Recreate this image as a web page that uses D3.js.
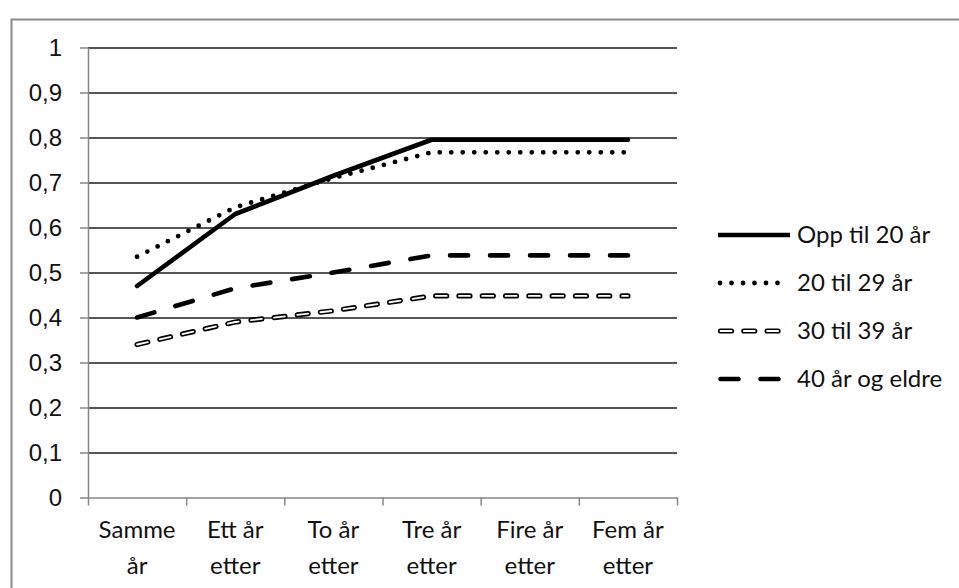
<!DOCTYPE html>
<html>
<head>
<meta charset="utf-8">
<script src="https://cdn.jsdelivr.net/npm/d3@7"></script>
<style>
  html, body { margin: 0; padding: 0; background: #fff; }
  svg { display: block; font-family: Lato, "Open Sans", sans-serif; }
</style>
</head>
<body>
<svg id="chart" width="959" height="588"></svg>
<script>
// Category labels (two lines each)
const categories = [
  ["Samme", "år"],
  ["Ett år", "etter"],
  ["To år", "etter"],
  ["Tre år", "etter"],
  ["Fire år", "etter"],
  ["Fem år", "etter"]
];

// Series values per category
const oppTil20 = [0.47, 0.63, 0.715, 0.795, 0.795, 0.795];
const til29 = [0.535, 0.645, 0.71, 0.767, 0.767, 0.767];
const til39 = [0.34, 0.39, 0.415, 0.448, 0.448, 0.448];
const eldre40 = [0.40, 0.465, 0.50, 0.538, 0.538, 0.538];

const seriesNames = ["Opp til 20 år", "20 til 29 år", "30 til 39 år", "40 år og eldre"];

// Value axis ticks
const yTicks = [0, 0.1, 0.2, 0.3, 0.4, 0.5, 0.6, 0.7, 0.8, 0.9, 1];
const yTickLabels = ["0", "0,1", "0,2", "0,3", "0,4", "0,5", "0,6", "0,7", "0,8", "0,9", "1"];

const svg = d3.select("#chart");

const plot = { left: 88, right: 677, top: 47.5, bottom: 497.5 };
const axisGrey = "#868686";
const textColor = "#111";

// Outer chart frame
svg.append("rect")
  .attr("x", 11.5).attr("y", 19.5)
  .attr("width", 1000).attr("height", 1000)
  .attr("fill", "none")
  .attr("stroke", "#8a8a8a")
  .attr("stroke-width", 2);

const idx = d3.range(categories.length);
const x = d3.scaleBand().domain(idx).range([plot.left, plot.right]).padding(0);
const xEdge = d3.scaleLinear().domain([0, categories.length]).range([plot.left, plot.right]);
const y = d3.scaleLinear().domain([0, 1]).range([plot.bottom, plot.top]);
const cx = i => x(i) + x.bandwidth() / 2;

// Horizontal gridlines
const grid = svg.append("g")
  .attr("transform", `translate(${plot.left},0)`)
  .call(d3.axisLeft(y)
    .tickValues(yTicks.filter(v => v > 0))
    .tickSize(-(plot.right - plot.left))
    .tickFormat(""));
grid.select(".domain").remove();
grid.selectAll(".tick line").attr("stroke", "#1c1c1c").attr("stroke-width", 1.5);

// Value axis
const yAxis = svg.append("g")
  .attr("transform", `translate(${plot.left},0)`)
  .call(d3.axisLeft(y)
    .tickValues(yTicks)
    .tickSize(8)
    .tickSizeOuter(0)
    .tickPadding(18)
    .tickFormat((d, i) => yTickLabels[i]));
yAxis.select(".domain").attr("stroke", axisGrey).attr("stroke-width", 1.5);
yAxis.selectAll(".tick line").attr("stroke", axisGrey).attr("stroke-width", 1.5);
yAxis.selectAll(".tick text")
  .attr("fill", textColor)
  .style("font-size", "24px")
  .attr("font-family", null);

// Category axis: tick marks on band edges
const xAxis = svg.append("g")
  .attr("transform", `translate(0,${plot.bottom})`)
  .call(d3.axisBottom(xEdge)
    .tickValues(d3.range(categories.length + 1))
    .tickSize(8)
    .tickSizeOuter(0)
    .tickFormat(""));
xAxis.select(".domain").attr("stroke", axisGrey).attr("stroke-width", 1.5);
xAxis.selectAll(".tick line").attr("stroke", axisGrey).attr("stroke-width", 1.5);

// Category labels centred in each band
const catLabels = svg.append("g")
  .selectAll("text")
  .data(categories)
  .join("text")
  .attr("x", (d, i) => cx(i))
  .attr("text-anchor", "middle")
  .attr("fill", textColor)
  .style("font-size", "24px");
catLabels.append("tspan").attr("x", (d, i) => cx(i)).attr("y", 538).text(d => d[0]);
catLabels.append("tspan").attr("x", (d, i) => cx(i)).attr("y", 574).text(d => d[1]);

// Line styles per series
const styles = [
  { layers: [{ color: "#000", width: 4.6, dash: null }] },
  { layers: [{ color: "#000", width: 4.8, dash: "0 11.5" }] },
  { layers: [
      { color: "#000", width: 5.2, dash: "11 12.3" },
      { color: "#fff", width: 1.8, dash: "11 12.3" }
    ] },
  { layers: [{ color: "#000", width: 4.6, dash: "18 22" }] }
];

const seriesData = [oppTil20, til29, til39, eldre40];

const line = d3.line()
  .x((d, i) => cx(i))
  .y(d => y(d));

const lines = svg.append("g");
seriesData.forEach((vals, s) => {
  styles[s].layers.forEach(l => {
    lines.append("path")
      .datum(vals)
      .attr("d", line)
      .attr("fill", "none")
      .attr("stroke", l.color)
      .attr("stroke-width", l.width)
      .attr("stroke-linecap", "round")
      .attr("stroke-linejoin", "round")
      .attr("stroke-dasharray", l.dash);
  });
});

// Legend
const legendRows = [235, 283, 331, 379];
const legendEnds = [790, 781, 781, 781];
const legend = svg.append("g");
seriesNames.forEach((name, s) => {
  const ly = legendRows[s];
  const startX = s === 1 ? 720 : (s === 0 ? 718 : 720.5);
  styles[s].layers.forEach(l => {
    legend.append("path")
      .attr("d", d3.line()([[startX, ly], [legendEnds[s], ly]]))
      .attr("fill", "none")
      .attr("stroke", l.color)
      .attr("stroke-width", l.width)
      .attr("stroke-linecap", s === 0 ? "butt" : "round")
      .attr("stroke-dasharray", l.dash);
  });
  legend.append("text")
    .attr("x", 797)
    .attr("y", ly)
    .attr("dy", "0.35em")
    .attr("fill", textColor)
    .style("font-size", "24px")
    .text(name);
});
</script>
</body>
</html>
